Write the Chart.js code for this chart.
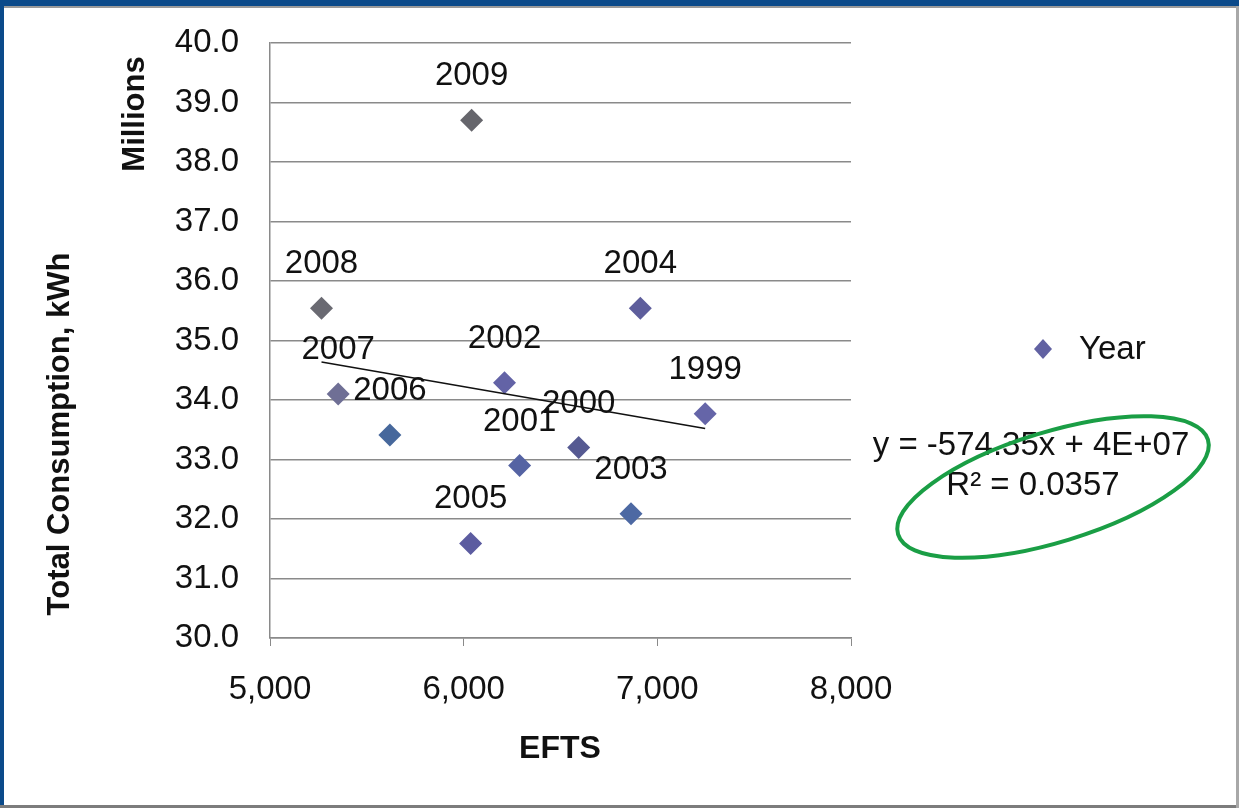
<!DOCTYPE html>
<html>
<head>
<meta charset="utf-8">
<script src="https://cdn.jsdelivr.net/npm/chart.js@4.4.0/dist/chart.umd.min.js"></script>
<style>
  html, body { margin: 0; padding: 0; background: #fff; }
  #c { display: block; }
</style>
</head>
<body>
<canvas id="c" width="1239" height="808" style="width:1239px;height:808px"></canvas>
<script>
// values (consumption in millions of kWh)
const years = ['1999', '2000', '2001', '2002', '2003', '2004', '2005', '2006', '2007', '2008', '2009'];
const efts = [7247, 6594, 6289, 6211, 6864, 6912, 6036, 5619, 5352, 5266, 6041];
const consumption = [33.77, 33.20, 32.90, 34.29, 32.09, 35.54, 31.59, 33.41, 34.10, 35.54, 38.70];
const pointColors = ['#6565a8', '#565a92', '#5563a3', '#6363a6', '#4d69a3', '#5e5e9c', '#5c5ca0', '#47689c', '#6f6f95', '#6a6a72', '#66666c'];

// linear trend line, end points as drawn
const trendX = [5266, 7247];
const trendY = [34.64, 33.52];
const equationLines = ['y = -574.35x + 4E+07', 'R\u00b2 = 0.0357'];

const FONT = '"Liberation Sans", Arial, sans-serif';

const pointLabels = {
  id: 'pointLabels',
  afterDatasetsDraw(chart) {
    const ctx = chart.ctx;
    const meta = chart.getDatasetMeta(0);
    ctx.save();
    ctx.font = '33px ' + FONT;
    ctx.fillStyle = '#111';
    ctx.textAlign = 'center';
    ctx.textBaseline = 'middle';
    meta.data.forEach((pt, i) => ctx.fillText(years[i], pt.x, pt.y - 44));
    ctx.restore();
  }
};

const overlay = {
  id: 'overlay',
  afterDraw(chart) {
    const ctx = chart.ctx;
    ctx.save();
    ctx.fillStyle = '#111';
    // axis titles
    ctx.font = 'bold 31px ' + FONT;
    ctx.textAlign = 'center';
    ctx.textBaseline = 'middle';
    ctx.save();
    ctx.translate(60, 434);
    ctx.rotate(-Math.PI / 2);
    ctx.fillText('Total Consumption, kWh', 0, 0);
    ctx.restore();
    ctx.save();
    ctx.translate(135, 114);
    ctx.rotate(-Math.PI / 2);
    ctx.fillText('Millions', 0, 0);
    ctx.restore();
    ctx.font = 'bold 32px ' + FONT;
    ctx.fillText('EFTS', 560, 749);

    // legend
    ctx.fillStyle = '#6262a2';
    ctx.beginPath();
    ctx.moveTo(1043, 339); ctx.lineTo(1052, 349); ctx.lineTo(1043, 359); ctx.lineTo(1034, 349);
    ctx.closePath();
    ctx.fill();
    ctx.fillStyle = '#111';
    ctx.font = '33px ' + FONT;
    ctx.textAlign = 'left';
    ctx.fillText('Year', 1079, 350);

    // trend equation
    ctx.textAlign = 'center';
    ctx.fillText(equationLines[0], 1031, 446);
    ctx.fillText(equationLines[1], 1033, 486);

    // green ellipse
    ctx.strokeStyle = '#1a9e45';
    ctx.lineWidth = 4;
    ctx.beginPath();
    ctx.ellipse(1053, 487, 162, 55, -17 * Math.PI / 180, 0, Math.PI * 2);
    ctx.stroke();

    // slide frame
    ctx.fillStyle = '#0b4a8a';
    ctx.fillRect(0, 0, 1239, 6);
    ctx.fillRect(0, 0, 4, 808);
    ctx.fillStyle = '#9a9a9a';
    ctx.fillRect(4, 6, 1235, 2);
    ctx.fillStyle = '#7c7c7c';
    ctx.fillRect(0, 805, 1239, 3);
    ctx.fillStyle = '#a8a8a8';
    ctx.fillRect(1236, 6, 3, 802);
    ctx.restore();
  }
};

new Chart(document.getElementById('c'), {
  type: 'scatter',
  data: {
    datasets: [
      {
        label: 'Year',
        data: efts.map((x, i) => ({ x, y: consumption[i] })),
        pointStyle: 'rectRot',
        pointRadius: 11.5,
        pointBackgroundColor: pointColors,
        pointBorderWidth: 0,
        order: 1
      },
      {
        label: 'Linear (Year)',
        type: 'line',
        data: trendX.map((x, i) => ({ x, y: trendY[i] })),
        borderColor: '#111',
        borderWidth: 1.5,
        pointRadius: 0,
        fill: false,
        order: 0
      }
    ]
  },
  options: {
    responsive: false,
    animation: false,
    layout: { padding: { left: 0, top: 43, right: 388, bottom: 0 } },
    plugins: { legend: { display: false }, tooltip: { enabled: false } },
    scales: {
      x: {
        type: 'linear',
        min: 5000,
        max: 8000,
        afterFit: s => { s.height = 170; s.paddingLeft = 0; s.paddingRight = 0; },
        ticks: {
          stepSize: 1000,
          padding: 24,
          color: '#111',
          font: { family: FONT, size: 33 },
          callback: v => v.toLocaleString('en-US')
        },
        grid: { drawOnChartArea: false, drawTicks: true, tickLength: 8, color: '#8a8a8a' },
        border: { color: '#8a8a8a', width: 1.5 }
      },
      y: {
        min: 30,
        max: 40,
        afterFit: s => { s.width = 270; s.paddingTop = 0; s.paddingBottom = 0; },
        ticks: {
          stepSize: 1,
          padding: 31,
          color: '#111',
          font: { family: FONT, size: 33 },
          callback: v => v.toFixed(1)
        },
        grid: { drawTicks: false, color: '#8a8a8a', lineWidth: 1.5 },
        border: { color: '#8a8a8a', width: 1.5 }
      }
    }
  },
  plugins: [pointLabels, overlay]
});
</script>
</body>
</html>
